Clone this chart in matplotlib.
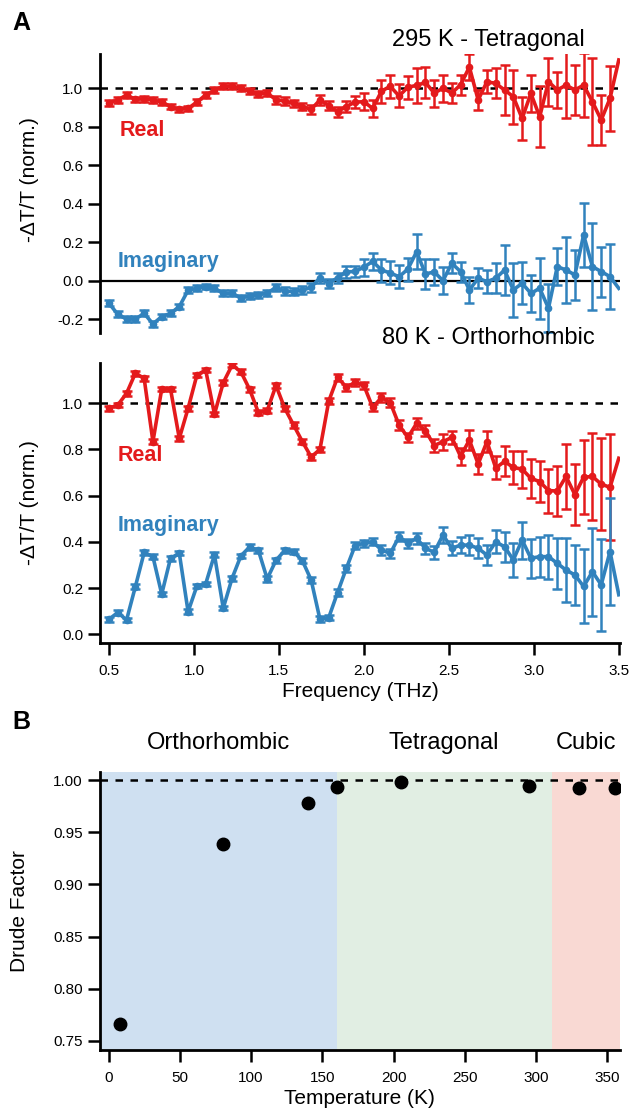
import numpy as np
import matplotlib
matplotlib.use("Agg")
import matplotlib.pyplot as plt
from matplotlib.transforms import blended_transform_factory

plt.rcParams['font.family'] = ['Liberation Sans', 'DejaVu Sans']
plt.rcParams['axes.unicode_minus'] = False

# frequency grid (THz), 59 samples from 0.5 to 3.5
freq = np.linspace(0.5, 3.5, 59)

# 295 K - tetragonal
real_295 = [0.925, 0.939, 0.965, 0.942, 0.945, 0.940, 0.928, 0.905, 0.890, 0.895,
            0.928, 0.965, 0.990, 1.010, 1.010, 1.000, 0.985, 0.970, 0.975, 0.940,
            0.933, 0.921, 0.905, 0.890, 0.939, 0.910, 0.878, 0.905, 0.928, 0.930,
            0.895, 0.985, 1.010, 0.960, 1.005, 1.015, 1.030, 0.975, 1.000, 0.975,
            1.018, 1.110, 0.939, 1.034, 1.025, 0.991, 0.956, 0.843, 0.973, 0.852,
            1.034, 0.991, 1.016, 0.991, 1.016, 0.930, 0.835, 0.947, 1.147]
imag_295 = [-0.118, -0.175, -0.200, -0.200, -0.170, -0.225, -0.187, -0.170, -0.135, -0.050,
            -0.040, -0.031, -0.040, -0.066, -0.066, -0.090, -0.080, -0.074, -0.065, -0.035,
            -0.055, -0.057, -0.050, -0.035, 0.015, -0.015, 0.015, 0.045, 0.048, 0.070,
            0.100, 0.055, 0.040, 0.020, 0.060, 0.150, 0.035, 0.045, 0.000, 0.090,
            0.047, -0.048, 0.012, -0.005, 0.012, 0.055, -0.048, -0.014, -0.066, -0.040,
            -0.143, 0.073, 0.055, 0.030, 0.237, 0.073, 0.047, 0.021, -0.040]
err_295 = [0.015, 0.015, 0.015, 0.015, 0.015, 0.015, 0.015, 0.015, 0.015, 0.015,
           0.015, 0.015, 0.015, 0.015, 0.015, 0.015, 0.015, 0.015, 0.015, 0.020,
           0.020, 0.020, 0.020, 0.025, 0.025, 0.025, 0.025, 0.030, 0.030, 0.045,
           0.045, 0.060, 0.060, 0.060, 0.060, 0.090, 0.080, 0.070, 0.070, 0.052,
           0.052, 0.066, 0.052, 0.060, 0.078, 0.130, 0.140, 0.110, 0.095, 0.160,
           0.125, 0.095, 0.170, 0.130, 0.165, 0.225, 0.130, 0.170, 0.0]

# 80 K - orthorhombic
real_80 = [0.978, 0.992, 1.043, 1.130, 1.108, 0.834, 1.062, 1.062, 0.848, 0.978,
           1.122, 1.144, 0.953, 1.089, 1.165, 1.137, 1.060, 0.960, 0.968, 1.077,
           0.978, 0.906, 0.834, 0.768, 0.800, 1.009, 1.112, 1.070, 1.090, 1.077,
           0.982, 1.025, 1.003, 0.906, 0.852, 0.913, 0.882, 0.817, 0.834, 0.852,
           0.770, 0.841, 0.737, 0.834, 0.720, 0.748, 0.722, 0.715, 0.675, 0.661,
           0.622, 0.620, 0.683, 0.605, 0.680, 0.683, 0.650, 0.636, 0.762]
imag_80 = [0.065, 0.094, 0.062, 0.206, 0.354, 0.336, 0.174, 0.329, 0.351, 0.098,
           0.209, 0.218, 0.344, 0.113, 0.242, 0.339, 0.378, 0.363, 0.240, 0.320,
           0.363, 0.358, 0.319, 0.235, 0.065, 0.072, 0.180, 0.285, 0.384, 0.394,
           0.401, 0.365, 0.350, 0.422, 0.394, 0.415, 0.372, 0.355, 0.430, 0.372,
           0.386, 0.386, 0.372, 0.343, 0.400, 0.379, 0.322, 0.408, 0.329, 0.336,
           0.336, 0.307, 0.278, 0.257, 0.207, 0.271, 0.214, 0.358, 0.171]
err_80 = [0.010, 0.010, 0.010, 0.010, 0.010, 0.010, 0.010, 0.010, 0.010, 0.010,
          0.010, 0.010, 0.010, 0.010, 0.010, 0.010, 0.012, 0.012, 0.012, 0.012,
          0.012, 0.012, 0.012, 0.012, 0.012, 0.012, 0.015, 0.015, 0.015, 0.015,
          0.015, 0.020, 0.020, 0.020, 0.020, 0.025, 0.025, 0.028, 0.035, 0.030,
          0.036, 0.043, 0.043, 0.045, 0.050, 0.065, 0.072, 0.080, 0.085, 0.087,
          0.095, 0.110, 0.140, 0.130, 0.160, 0.190, 0.200, 0.230, 0.0]

# panel B
temps = [8, 80, 140, 160, 205, 295, 330, 355]
drude = [0.766, 0.939, 0.978, 0.994, 0.998, 0.995, 0.993, 0.993]
phases = ['Orthorhombic', 'Tetragonal', 'Cubic']
phase_edges = [-10, 160, 311, 365]
phase_colors = ['#cfe0f1', '#e1eee3', '#f9d9d3']

red = '#e41a1c'
blue = '#3182bd'

fig = plt.figure(figsize=(6.3, 11.11), dpi=100)
ax1 = fig.add_axes([0.1587, 0.7003, 0.8254, 0.2511])
ax2 = fig.add_axes([0.1587, 0.4212, 0.8254, 0.2520])
ax3 = fig.add_axes([0.1580, 0.0549, 0.8254, 0.2502])


def draw_trace(ax, y, err, color):
    ax.plot(freq, y, color=color, lw=2.6, zorder=3)
    ax.errorbar(freq[:-1], y[:-1], yerr=err[:-1], fmt='o', color=color, ms=4.5,
                elinewidth=1.8, capsize=3.5, capthick=1.8, zorder=3)


def style(ax):
    for s in ['top', 'right']:
        ax.spines[s].set_visible(False)
    ax.spines['left'].set_linewidth(2.0)
    ax.spines['bottom'].set_linewidth(2.0)
    ax.tick_params(direction='out', length=8.5, width=1.8, labelsize=11)
    ax.tick_params(axis='y', pad=3.5)
    ax.tick_params(axis='x', pad=6.5)


# 295 K
draw_trace(ax1, real_295, err_295, red)
draw_trace(ax1, imag_295, err_295, blue)
ax1.axhline(1.0, color='k', ls=(0, (3, 3)), lw=1.8, zorder=1)
ax1.axhline(0.0, color='k', lw=1.6, zorder=1)
ax1.set_xlim(0.447, 3.507)
ax1.set_ylim(-0.272, 1.178)
ax1.set_yticks([-0.2, 0.0, 0.2, 0.4, 0.6, 0.8, 1.0])
ax1.set_yticklabels(['-0.2', '0.0', '0.2', '0.4', '0.6', '0.8', '1.0'])
style(ax1)
ax1.spines['bottom'].set_visible(False)
ax1.set_xticks([])
ax1.set_ylabel('-\u0394T/T (norm.)', fontsize=15)
ax1.yaxis.set_label_coords(-0.117, 0.55)
ax1.text(0.565, 0.78, 'Real', color=red, fontsize=15.5, fontweight='bold', va='center')
ax1.text(0.553, 0.097, 'Imaginary', color=blue, fontsize=15.5, fontweight='bold', va='center')
fig.text(585 / 630, 1 - 40 / 1111, '295 K - Tetragonal', fontsize=17, ha='right', va='center')

# 80 K
draw_trace(ax2, real_80, err_80, red)
draw_trace(ax2, imag_80, err_80, blue)
ax2.axhline(1.0, color='k', ls=(0, (3, 3)), lw=1.8, zorder=1)
ax2.set_xlim(0.447, 3.507)
ax2.set_ylim(-0.038, 1.174)
ax2.set_yticks([0.0, 0.2, 0.4, 0.6, 0.8, 1.0])
ax2.set_yticklabels(['0.0', '0.2', '0.4', '0.6', '0.8', '1.0'])
ax2.set_xticks([0.5, 1.0, 1.5, 2.0, 2.5, 3.0, 3.5])
style(ax2)
ax2.set_ylabel('-\u0394T/T (norm.)', fontsize=15)
ax2.yaxis.set_label_coords(-0.117, 0.5)
ax2.set_xlabel('Frequency (THz)', fontsize=15, labelpad=3)
ax2.text(0.553, 0.776, 'Real', color=red, fontsize=15.5, fontweight='bold', va='center')
ax2.text(0.553, 0.473, 'Imaginary', color=blue, fontsize=15.5, fontweight='bold', va='center')
fig.text(595 / 630, 1 - 338 / 1111, '80 K - Orthorhombic', fontsize=17, ha='right', va='center')

# Drude factor vs temperature
for i in range(len(phases)):
    ax3.axvspan(phase_edges[i], phase_edges[i + 1], color=phase_colors[i], lw=0, zorder=0)
ax3.axhline(1.0, color='k', ls=(0, (3, 3)), lw=1.8, zorder=1)
ax3.plot(temps, drude, 'o', color='k', ms=9, zorder=3)
ax3.set_xlim(-6.3, 358.5)
ax3.set_ylim(0.741, 1.008)
ax3.set_xticks(range(0, 351, 50))
ax3.set_yticks([0.75, 0.80, 0.85, 0.90, 0.95, 1.00])
ax3.set_yticklabels(['0.75', '0.80', '0.85', '0.90', '0.95', '1.00'])
style(ax3)
ax3.set_xlabel('Temperature (K)', fontsize=15, labelpad=3)
ax3.set_ylabel('Drude Factor', fontsize=15)
ax3.yaxis.set_label_coords(-0.135, 0.5)
trans = blended_transform_factory(ax3.transData, fig.transFigure)
phase_centers = [77, 235, 335]
for name, xc in zip(phases, phase_centers):
    ax3.text(xc, 1 - 743 / 1111, name, fontsize=17, ha='center', va='center', transform=trans)

fig.text(0.02, 1 - 23 / 1111, 'A', fontsize=18, fontweight='bold', va='center')
fig.text(0.02, 1 - 722 / 1111, 'B', fontsize=18, fontweight='bold', va='center')

fig.savefig('out.png', dpi=100)
